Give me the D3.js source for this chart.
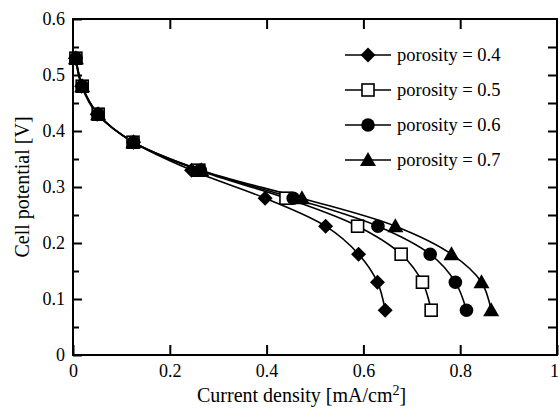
<!DOCTYPE html>
<html>
<head>
<meta charset="utf-8">
<script src="https://cdn.jsdelivr.net/npm/d3@7"></script>
<style>
  body { margin: 0; background: #fff; }
</style>
</head>
<body>
<div id="chart"></div>
<script>
// data
var potential = [0.53, 0.48, 0.43, 0.38, 0.33, 0.28, 0.23, 0.18, 0.13, 0.08];
var current04 = [0.005, 0.018, 0.05, 0.125, 0.245, 0.397, 0.522, 0.59, 0.629, 0.645];
var current05 = [0.006, 0.019, 0.052, 0.124, 0.26, 0.44, 0.588, 0.678, 0.722, 0.74];
var current06 = [0.006, 0.019, 0.052, 0.125, 0.263, 0.455, 0.63, 0.738, 0.79, 0.813];
var current07 = [0.006, 0.019, 0.052, 0.125, 0.265, 0.473, 0.666, 0.782, 0.844, 0.864];
var labels = ["porosity = 0.4", "porosity = 0.5", "porosity = 0.6", "porosity = 0.7"];
var xTicks = [0, 0.2, 0.4, 0.6, 0.8, 1];
var yTicks = [0, 0.1, 0.2, 0.3, 0.4, 0.5, 0.6];

var serif = "'Liberation Serif', 'Times New Roman', Times, serif";

var margin = {top: 19, right: 3, bottom: 57, left: 73},
    width = 560 - margin.left - margin.right,
    height = 412 - margin.top - margin.bottom;

var svg = d3.select("#chart")
  .append("svg")
    .attr("width", 560)
    .attr("height", 412)
  .append("g")
    .attr("transform", "translate(" + margin.left + "," + margin.top + ")");

var x = d3.scaleLinear().domain([0, 1]).range([0, width]);
var y = d3.scaleLinear().domain([0, 0.6]).range([height, 0]);

var series = [
  {name: labels[1], xs: current05, shape: "square"},
  {name: labels[0], xs: current04, shape: "diamond"},
  {name: labels[2], xs: current06, shape: "circle"},
  {name: labels[3], xs: current07, shape: "triangle"}
];

function marker(sel, shape) {
  if (shape == "square") {
    sel.append("rect").attr("x", -6).attr("y", -6).attr("width", 12).attr("height", 12)
      .attr("fill", "#fff").attr("stroke", "#000").attr("stroke-width", 1.6);
  } else if (shape == "diamond") {
    sel.append("path").attr("d", "M0,-7.5L7.5,0L0,7.5L-7.5,0Z").attr("fill", "#000");
  } else if (shape == "circle") {
    sel.append("circle").attr("r", 6.8).attr("fill", "#000");
  } else {
    sel.append("path").attr("d", "M0,-8L8,6L-8,6Z").attr("fill", "#000");
  }
}

var line = d3.line()
  .x(function(d) { return x(d[0]); })
  .y(function(d) { return y(d[1]); })
  .curve(d3.curveCatmullRom);

// curves
series.forEach(function(s) {
  var pts = s.xs.map(function(v, i) { return [v, potential[i]]; });
  svg.append("path")
    .datum(pts)
    .attr("d", line)
    .attr("fill", "none")
    .attr("stroke", "#000")
    .attr("stroke-width", 1.6);
});

// markers
series.forEach(function(s) {
  var pts = s.xs.map(function(v, i) { return [v, potential[i]]; });
  svg.selectAll(null)
    .data(pts)
    .enter()
    .append("g")
      .attr("transform", function(d) { return "translate(" + x(d[0]) + "," + y(d[1]) + ")"; })
      .each(function() { marker(d3.select(this), s.shape); });
});

// axes
var xAxis = svg.append("g")
  .attr("transform", "translate(0," + height + ")")
  .call(d3.axisBottom(x).tickValues(xTicks).tickSize(-10).tickPadding(9)
    .tickFormat(function(d) { return d == 0 || d == 1 ? d : d3.format(".1f")(d); }));
xAxis.selectAll(".tick text").filter(function(d) { return d == 1; }).attr("dx", -3);
svg.append("g")
  .call(d3.axisLeft(y).tickValues(yTicks).tickSize(-9).tickPadding(8)
    .tickFormat(function(d) { return d == 0 ? "0" : d3.format(".1f")(d); }));
svg.append("g")
  .call(d3.axisLeft(y).tickValues([0.05, 0.15, 0.25, 0.35, 0.45, 0.55]).tickSize(-6).tickFormat(""));
svg.append("g")
  .attr("transform", "translate(" + width + ",0)")
  .call(d3.axisRight(y).tickValues(d3.range(1, 12).map(function(i) { return i * 0.05; })).tickSize(-9).tickFormat(""));
svg.append("g")
  .call(d3.axisTop(x).tickValues([0.2, 0.4, 0.6, 0.8]).tickSize(-10).tickFormat(""));

svg.selectAll(".domain").remove();
svg.selectAll(".tick line").attr("stroke-width", 2);
svg.selectAll(".tick text").attr("font-family", serif).attr("font-size", 18).attr("fill", "#000");

svg.append("rect")
  .attr("width", width).attr("height", height)
  .attr("fill", "none").attr("stroke", "#000").attr("stroke-width", 2);

// axis titles
var xt = svg.append("text")
  .attr("x", 124).attr("y", height + 47)
  .attr("font-family", serif)
  .attr("font-size", 20)
  .text("Current density [mA/cm");
xt.append("tspan").attr("dy", -7).attr("font-size", 14).text("2");
xt.append("tspan").attr("dy", 7).text("]");

svg.append("text")
  .attr("transform", "translate(-44," + (height / 2) + ") rotate(-90)")
  .attr("text-anchor", "middle")
  .attr("font-family", serif)
  .attr("font-size", 20)
  .text("Cell potential [V]");

// legend
var legendOrder = [series[1], series[0], series[2], series[3]];
var legend = svg.selectAll(".legend")
  .data(legendOrder)
  .enter()
  .append("g")
    .attr("transform", function(d, i) { return "translate(" + (345 - margin.left) + "," + (55 + i * 35 - margin.top) + ")"; });
legend.append("line").attr("x1", 0).attr("x2", 46).attr("stroke", "#000").attr("stroke-width", 1.6);
legend.each(function(d) {
  var g = d3.select(this).append("g").attr("transform", "translate(23,0)");
  marker(g, d.shape);
});
legend.append("text")
  .attr("x", 52).attr("dy", "0.35em")
  .attr("font-family", serif)
  .attr("font-size", 18.5)
  .text(function(d) { return d.name; });
</script>
</body>
</html>
